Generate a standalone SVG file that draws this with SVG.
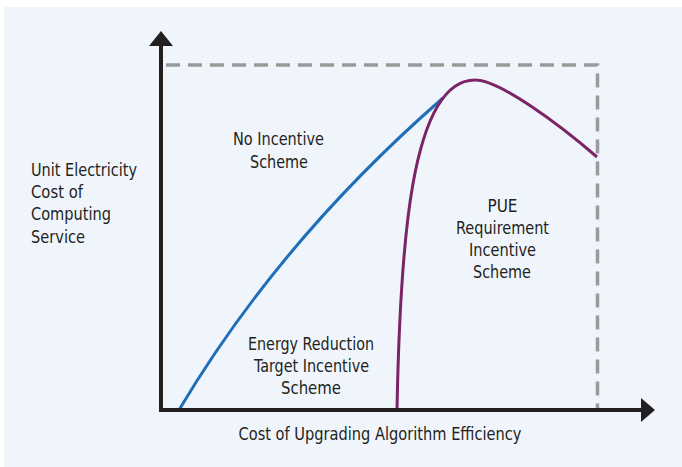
<svg xmlns="http://www.w3.org/2000/svg" width="682" height="467" viewBox="0 0 682 467">
  <defs>
    <style>
      .lbl { font-family: "Liberation Sans Narrow", "DejaVu Sans Condensed", "Liberation Sans", sans-serif; font-size: 18px; fill: #231f20; }
      .mid { text-anchor: middle; }
      .axis { stroke: #231f20; stroke-width: 4; fill: none; }
      .dash { stroke: #9a9a9a; stroke-width: 3.5; fill: none; stroke-dasharray: 14 8; }
      .blue { stroke: #1f6fb8; stroke-width: 3; fill: none; }
      .purple { stroke: #7b2466; stroke-width: 3; fill: none; }
    </style>
  </defs>
  <rect x="0" y="0" width="682" height="467" fill="#ffffff"/>
  <rect x="4" y="7" width="678" height="460" fill="#f0f5fc"/>

  <g id="bounds">
    <path class="dash" d="M166,65 H597.5 V410"/>
  </g>

  <g id="connectors">
    <path id="blue-curve" class="blue" d="M179,410 Q280,240 443,98"/>
    <path id="purple-curve" class="purple" d="M397,410 C400,250 410,80 475,80 C500,80 560,125 597,157"/>
  </g>

  <g id="axes">
    <path class="axis" d="M161,44 V410 H642"/>
    <polygon points="161,31 149,46 173,46" fill="#231f20"/>
    <polygon points="655,410 641,398 641,422" fill="#231f20"/>
  </g>

  <g id="y-label">
    <text class="lbl" x="31" y="176" textLength="106" lengthAdjust="spacingAndGlyphs">Unit Electricity</text>
    <text class="lbl" x="31" y="198" textLength="52" lengthAdjust="spacingAndGlyphs">Cost of</text>
    <text class="lbl" x="31" y="220" textLength="80" lengthAdjust="spacingAndGlyphs">Computing</text>
    <text class="lbl" x="31" y="242.5" textLength="54" lengthAdjust="spacingAndGlyphs">Service</text>
  </g>

  <g id="x-label">
    <text class="lbl mid" x="380" y="440" textLength="283" lengthAdjust="spacingAndGlyphs">Cost of Upgrading Algorithm Efficiency</text>
  </g>

  <g id="no-incentive">
    <text class="lbl mid" x="278.5" y="145" textLength="91" lengthAdjust="spacingAndGlyphs">No Incentive</text>
    <text class="lbl mid" x="279" y="167.5" textLength="58" lengthAdjust="spacingAndGlyphs">Scheme</text>
  </g>

  <g id="pue">
    <text class="lbl mid" x="502.5" y="212" textLength="30" lengthAdjust="spacingAndGlyphs">PUE</text>
    <text class="lbl mid" x="502.5" y="233.5" textLength="93" lengthAdjust="spacingAndGlyphs">Requirement</text>
    <text class="lbl mid" x="502.5" y="256" textLength="67" lengthAdjust="spacingAndGlyphs">Incentive</text>
    <text class="lbl mid" x="502" y="277.5" textLength="58" lengthAdjust="spacingAndGlyphs">Scheme</text>
  </g>

  <g id="energy-reduction">
    <text class="lbl mid" x="311" y="349.5" textLength="126" lengthAdjust="spacingAndGlyphs">Energy Reduction</text>
    <text class="lbl mid" x="311.5" y="371.5" textLength="115" lengthAdjust="spacingAndGlyphs">Target Incentive</text>
    <text class="lbl mid" x="311" y="393.5" textLength="60" lengthAdjust="spacingAndGlyphs">Scheme</text>
  </g>
</svg>
